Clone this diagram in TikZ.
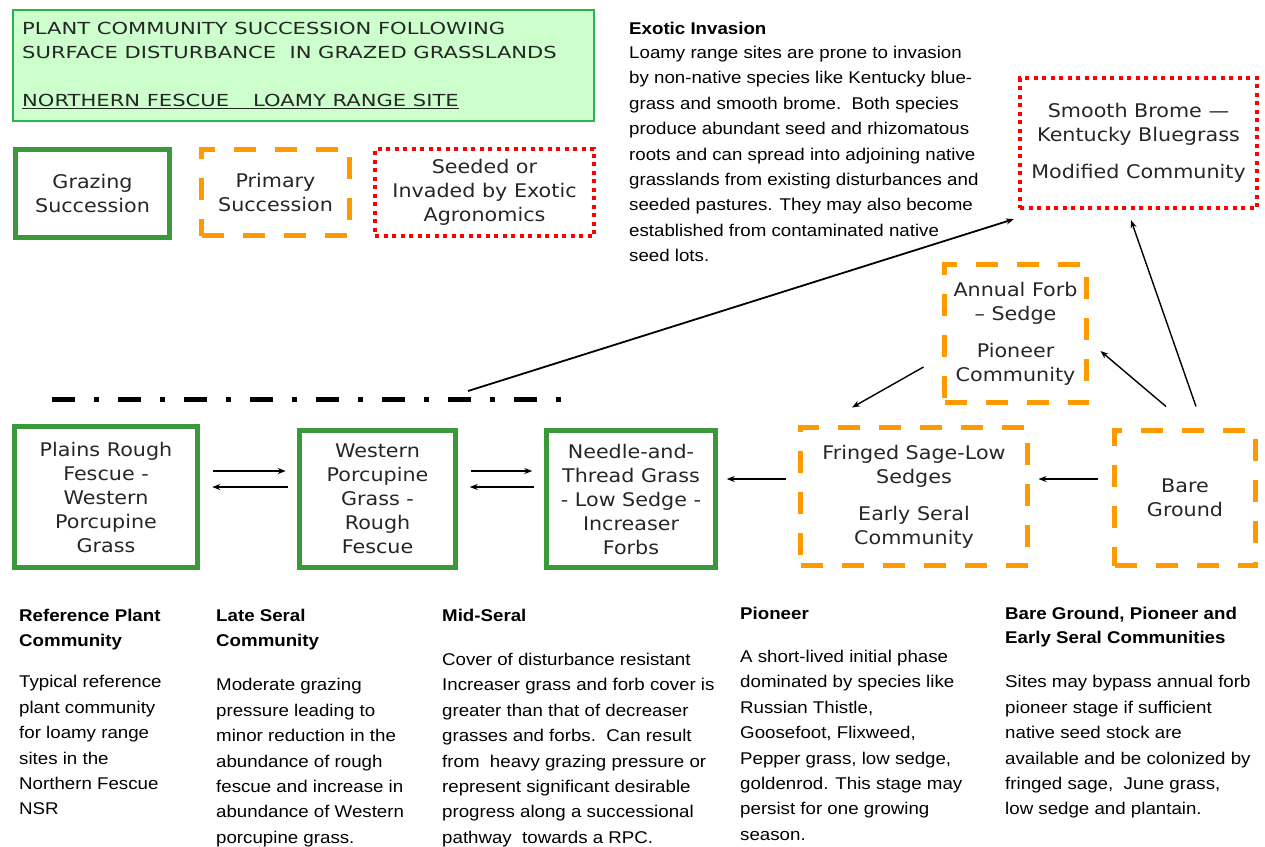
\documentclass[tikz,border=0pt]{standalone}
\usepackage{fontspec}
\setmainfont{Liberation Sans}[FakeStretch=1.1]
\newfontfamily\boxfont{DejaVu Sans}[FakeStretch=1.1]
\newfontfamily\titlefont{DejaVu Sans}[FakeStretch=1.27]
\usetikzlibrary{arrows.meta,calc}
\definecolor{grazgreen}{RGB}{58,154,58}
\definecolor{titlegreen}{RGB}{40,180,80}
\definecolor{titlefill}{RGB}{204,255,204}
\definecolor{primorange}{RGB}{255,153,0}
\definecolor{exred}{RGB}{255,0,0}
\tikzset{
  bx/.style={align=center, inner sep=0pt, font=\boxfont\fontsize{18.8}{24}\selectfont, text=black!85},
  graz/.style={bx, draw=grazgreen, line width=5.5pt},
  prim/.style={bx, draw=primorange, line width=5pt, dash pattern=on 22pt off 19pt},
  exot/.style={bx, draw=exred, line width=4.2pt, dash pattern=on 4pt off 4.5pt},
  arr/.style={-{Stealth[length=8pt,width=6pt]}, line width=1.4pt},
  desc/.style={align=left, anchor=north west, inner sep=0pt, font=\fontsize{17}{25.4}\selectfont},
}
\begin{document}
\begin{tikzpicture}[x=1pt,y=-1pt]
\useasboundingbox (0,0) rectangle (1265,846);
% title
\node[draw=titlegreen, fill=titlefill, line width=2.5pt, minimum width=581pt, minimum height=111pt, inner sep=0pt] (title) at (303.5,65.5) {};
\node[anchor=north west, inner sep=0pt, align=left, font=\titlefont\fontsize{16.6}{24}\selectfont, text=black!85] (titletext) at (22,22)
 {PLANT COMMUNITY SUCCESSION FOLLOWING\\ SURFACE DISTURBANCE\ \ IN GRAZED GRASSLANDS\\[24pt]
  \underline{NORTHERN FESCUE\hspace{24pt}LOAMY RANGE SITE}};
% legend
\node[graz, minimum width=154pt, minimum height=88pt] (lgraz) at (92.5,193.5) {Grazing\\Succession};
\node[prim, minimum width=148pt, minimum height=86pt] (lprim) at (275.5,192.5) {Primary\\Succession};
\node[exot, minimum width=219pt, minimum height=87pt] (lexot) at (484.5,192.5) {Seeded or\\Invaded by Exotic\\Agronomics};
% exotic invasion text
\node[desc] (exotxt) at (629,21.5) {\textbf{Exotic Invasion}\\[-1pt]
Loamy range sites are prone to invasion\\
by non-native species like Kentucky blue-\\
grass and smooth brome.\ \ Both species\\
produce abundant seed and rhizomatous\\
roots and can spread into adjoining native\\
grasslands from existing disturbances and\\
seeded pastures. They may also become\\
established from contaminated native\\
seed lots.};
% boxes
\node[exot, minimum width=237pt, minimum height=130pt] (smooth) at (1138.5,143) {Smooth Brome —\\Kentucky Bluegrass\\[13pt]Modified Community};
\node[prim, minimum width=142pt, minimum height=138pt] (annual) at (1015.5,333.5) {Annual Forb\\– Sedge\\[13pt]Pioneer\\Community};
\node[graz, minimum width=183pt, minimum height=141pt] (plains) at (106,497) {Plains Rough\\Fescue -\\Western\\Porcupine\\Grass};
\node[graz, minimum width=156pt, minimum height=137pt] (western) at (377.5,499) {Western\\Porcupine\\Grass -\\Rough\\Fescue};
\node[graz, minimum width=169pt, minimum height=137pt] (needle) at (631,499) {Needle-and-\\Thread Grass\\- Low Sedge -\\Increaser\\Forbs};
\node[prim, minimum width=227pt, minimum height=138pt] (fringed) at (914,496.5) {Fringed Sage-Low\\Sedges\\[13pt]Early Seral\\Community};
\node[prim, minimum width=141pt, minimum height=135pt] (bare) at (1185,498) {Bare\\Ground};
% dash-dot line
\coordinate (dl) at (52,399);
\coordinate (dr) at (563,399);
\draw[line width=5pt, dash pattern=on 23pt off 19pt on 5pt off 19pt] (dl) -- (dr);
\coordinate (exo) at (468,391);
% arrows
\draw[arr] ($(plains.east)+(13,-26)$) -- ($(western.west)+(-11,-28)$);
\draw[arr] ($(western.west)+(-9,-12)$) -- ($(plains.east)+(12,-10)$);
\draw[arr] ($(western.east)+(12.5,-28)$) -- ($(needle.west)+(-11.5,-28)$);
\draw[arr] ($(needle.west)+(-9.5,-12)$) -- ($(western.east)+(11.5,-12)$);
\draw[arr] ($(fringed.west)+(-12.5,-17.5)$) -- ($(needle.east)+(8.5,-20)$);
\draw[arr] ($(bare.west)+(-14.5,-19)$) -- ($(fringed.east)+(8.5,-17.5)$);
\draw[arr] ($(bare.north)+(-19,-21.5)$) -- ($(annual.east)+(11.5,17.5)$);
\draw[arr] ($(bare.north)+(11,-21.5)$) -- ($(smooth.south)+(-7.5,10)$);
\draw[arr] ($(annual.west)+(-18.5,33.5)$) -- ($(fringed.north)+(-62,-17.5)$);
\draw[arr, line width=1.8pt] (exo) -- ($(smooth.south west)+(-4,9)$);
% bottom descriptions
\node[desc] (ref) at (19,608.5) {\textbf{Reference Plant}\\\textbf{Community}\\[16pt]
Typical reference\\plant community\\for loamy range\\sites in the\\Northern Fescue\\NSR};
\node[desc] (late) at (216,608.5) {\textbf{Late Seral}\\\textbf{Community}\\[19pt]
Moderate grazing\\pressure leading to\\minor reduction in the\\abundance of rough\\fescue and increase in\\abundance of Western\\porcupine grass.};
\node[desc] (mid) at (442,608.5) {\textbf{Mid-Seral}\\[19pt]
Cover of disturbance resistant\\Increaser grass and forb cover is\\greater than that of decreaser\\grasses and forbs.\ \ Can result\\from\ \ heavy grazing pressure or\\represent significant desirable\\progress along a successional\\pathway\ \ towards a RPC.};
\node[desc] (pion) at (740,606.5) {\textbf{Pioneer}\\[18pt]
A short-lived initial phase\\dominated by species like\\Russian Thistle,\\Goosefoot, Flixweed,\\Pepper grass, low sedge,\\goldenrod. This stage may\\persist for one growing\\season.};
\node[desc] (bgp) at (1005,606.5) {\textbf{Bare Ground, Pioneer and}\\[-1pt]\textbf{Early Seral Communities}\\[19pt]
Sites may bypass annual forb\\pioneer stage if sufficient\\native seed stock are\\available and be colonized by\\fringed sage,\ \ June grass,\\low sedge and plantain.};
\end{tikzpicture}
\end{document}
